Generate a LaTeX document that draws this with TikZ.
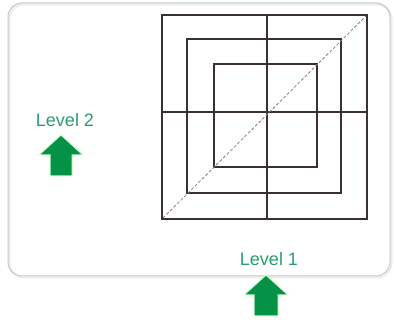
\documentclass[tikz,border=0pt]{standalone}
\usepackage{fontspec}
\setmainfont{Liberation Sans}
\definecolor{gridline}{RGB}{58,48,48}
\definecolor{levelgreen}{RGB}{40,158,105}
\definecolor{arrowgreen}{RGB}{6,146,70}
\begin{document}
\begin{tikzpicture}[x=1pt, y=-1pt,
    sq/.style={draw=gridline, line width=1.1pt},
    uparrow/.style={fill=arrowgreen, draw=green!20, line width=1pt, line join=miter},
    level/.style={text=levelgreen, font=\fontsize{18}{20}\selectfont, inner sep=0pt}]
        \useasboundingbox (0, 0) rectangle (394, 331);
        % frame with soft shadow
        \draw[gray!15, line width=2pt, rounded corners=14pt]
          (9.5, 4.5) rectangle (391.5, 277.5);
        \draw[gray!45, line width=1pt, rounded corners=14pt]
          (8, 3) rectangle (390, 276);
        % nested squares
        \draw[sq] (162, 15) rectangle (367, 219);
        \draw[sq] (187, 39) rectangle (341, 193);
        \draw[sq] (214, 64) rectangle (317, 167);
        \draw[sq] (267, 15) -- (267, 219);
        \draw[sq] (162, 112) -- (367, 112);
        \draw[densely dashed, gray, line width=0.8pt] (163, 218) -- (366, 16);
        % labels and arrows
        \node[level] (lvl2) at (65, 120) {Level 2};
        \node[level] (lvl1) at (269, 259) {Level 1};
        \fill[uparrow] (61, 135) -- (83, 155) -- (72, 155) -- (72, 176)
          -- (50, 176) -- (50, 155) -- (39, 155) -- cycle;
        \fill[uparrow] (266, 275) -- (288, 295) -- (278, 295) -- (278, 316)
          -- (254, 316) -- (254, 295) -- (244, 295) -- cycle;
      \end{tikzpicture}
\end{document}
